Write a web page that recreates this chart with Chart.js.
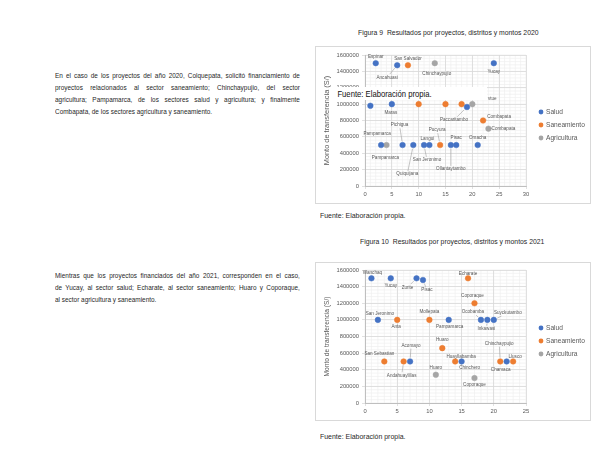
<!DOCTYPE html>
<html>
<head>
<meta charset="utf-8">
<script src="https://cdn.jsdelivr.net/npm/chart.js@4.4.1/dist/chart.umd.min.js"></script>
<style>
body { margin: 0; width: 600px; height: 463px; position: relative; overflow: hidden; background: #fff; color: #1f1f1f;
       font-family: "Liberation Sans", Arial, sans-serif; }
.abs { position: absolute; }
.par { left: 55px; width: 305px; font-size: 8px; line-height: 12px; transform: scaleX(0.803); transform-origin: 0 0; }
.par .ln { white-space: nowrap; text-align: justify; text-align-last: justify; }
.par .ln.last { text-align-last: left; }
.cap { font-size: 8px; white-space: nowrap; transform: scaleX(0.855); transform-origin: 0 0; }
.src { font-size: 8px; white-space: nowrap; transform: scaleX(0.87); transform-origin: 0 0; }
.box { border: 1px solid #d9d9d9; box-sizing: border-box; width: 276px; }
.overlay { left: 335px; top: 87px; width: 152px; height: 13px; background: #fff; }
.overlay span { display: block; padding-left: 3px; font-size: 9.6px; line-height: 13px; color: #111; white-space: nowrap; transform: scaleX(0.8); transform-origin: 0 0; }
</style>
</head>
<body>

<div class="abs cap" style="left:358px; top:28px;">Figura 9&nbsp; Resultados por proyectos, distritos y montos 2020</div>
<div class="abs par" style="top:70px;">
  <div class="ln">En el caso de los proyectos del año 2020, Colquepata, solicitó financiamiento de</div>
  <div class="ln">proyectos relacionados al sector saneamiento; Chinchaypujio, del sector</div>
  <div class="ln">agricultura; Pampamarca, de los sectores salud y agricultura; y finalmente</div>
  <div class="ln last">Combapata, de los sectores agricultura y saneamiento.</div>
</div>
<div class="abs box" style="left:315px; top:46px; height:158px;"></div>
<canvas id="chart2020" class="abs" style="left:315px; top:46px;" width="276" height="158"></canvas>
<div class="abs overlay"><span>Fuente: Elaboración propia.</span></div>
<div class="abs src" style="left:320px; top:211px;">Fuente: Elaboración propia.</div>

<div class="abs cap" style="left:360px; top:237px;">Figura 10&nbsp; Resultados por proyectos, distritos y montos 2021</div>
<div class="abs par" style="top:270px;">
  <div class="ln">Mientras que los proyectos financiados del año 2021, corresponden en el caso,</div>
  <div class="ln">de Yucay, al sector salud; Echarate, al sector saneamiento; Huaro y Coporaque,</div>
  <div class="ln last">al sector agricultura y saneamiento.</div>
</div>
<div class="abs box" style="left:315px; top:262px; height:159px;"></div>
<canvas id="chart2021" class="abs" style="left:315px; top:262px;" width="276" height="159"></canvas>
<div class="abs src" style="left:320px; top:432px;">Fuente: Elaboración propia.</div>

<script>
// ---- 2020 ----
const salud2020X = [2, 6, 24, 1, 5, 19, 3, 7, 9, 11, 12, 16, 17, 21];
const salud2020Y = [1500000, 1475000, 1500000, 980000, 1000000, 965000, 500000, 500000, 500000, 500000, 500000, 500000, 500000, 500000];
const salud2020Names = ['Espinar', 'Ancahuasi', 'Yucay', '', 'Maras', 'Paccaritambo', 'Pampamarca', 'Pichigua', 'Quiquijana', 'San Jeronimo', 'Langui', 'Ollantaytambo', 'Pisac', 'Omacha'];

const san2020X = [8, 10, 15, 18, 22, 14];
const san2020Y = [1475000, 1000000, 1000000, 1000000, 800000, 500000];
const san2020Names = ['San Salvador', '', '', '', 'Combapata', 'Pucyura'];

const agr2020X = [13, 20, 23, 4];
const agr2020Y = [1500000, 1000000, 700000, 500000];
const agr2020Names = ['Chinchaypujio', 'vtue', 'Combapata', 'Pampamarca'];

// ---- 2021 ----
const salud2021X = [1, 4, 8, 9, 2, 13, 18, 19, 20, 7, 15, 22];
const salud2021Y = [1500000, 1500000, 1500000, 1480000, 1000000, 1000000, 1000000, 1000000, 1000000, 500000, 500000, 500000];
const salud2021Names = ['Wanchaq', 'Yucay', 'Zurite', 'Pisac', 'San Jeronimo', 'Pampamarca', 'Ocobamba', 'Inkawasi', 'Suyckutambo', 'Acomayo', 'Chinchero', 'Chamaca'];

const san2021X = [16, 17, 5, 10, 12, 3, 6, 14, 21, 23];
const san2021Y = [1500000, 1200000, 1000000, 1000000, 660000, 500000, 500000, 500000, 500000, 500000];
const san2021Names = ['Echarate', 'Coporaque', 'Anta', 'Mollepata', 'Huaro', 'San Sebastian', 'Andahuaylillas', 'Huayllabamba', 'Chinchaypujio', 'Llusco'];

const agr2021X = [11, 17];
const agr2021Y = [340000, 300000];
const agr2021Names = ['Huaro', 'Coporaque'];

const seriesNames = ['Salud', 'Saneamiento', 'Agricultura'];
const yTicks = { min: 0, max: 1600000, step: 200000 };
const yTitle = 'Monto de transferencia (S/)';

// label placement (px from the point; third item = leader line)
const saludOff2020 = [[0,-6],[-10,12,1],[0,9],[0,0],[-1,9],[-13,13,1],[-4,-11],[-3,-20,1],[-6,29,1],[3,15,1],[-2,-6],[0,24,1],[0,-7],[0,-7]];
const sanOff2020 = [[0,-7],[0,0],[0,0],[0,0],[16,-4,1],[-3,-15,1]];
const agrOff2020 = [[2,11],[20,-5],[15,0,1],[-1,13]];
const saludOff2021 = [[1,-6],[0,7],[-9,9,1],[4,10,1],[2,-6],[1,7],[-8,-8,1],[-1,9,1],[14,-7,1],[1,-16,1],[8,6],[-6,8]];
const sanOff2021 = [[0,-5],[-2,-8],[-1,7],[0,-8],[0,-8],[-5,-8],[-2,14,1],[6,-5],[-1,-18,1],[2,-5]];
const agrOff2021 = [[0,-7],[0,7]];

const colors = ['#4472C4', '#ED7D31', '#A5A5A5'];
const gridColor = '#d9d9d9';
const textGray = '#595959';

const toPoints = (xs, ys) => xs.map((x, i) => ({ x: x, y: ys[i] }));

const minorGrid = {
    id: 'minorGrid',
    beforeDraw(chart, args, opts) {
        const { ctx, chartArea: a, scales: { x, y } } = chart;
        ctx.save();
        ctx.strokeStyle = '#efefef';
        ctx.lineWidth = 0.7;
        ctx.beginPath();
        for (let v = x.min; v <= x.max; v += opts.xStep) {
            const px = x.getPixelForValue(v);
            ctx.moveTo(px, a.top); ctx.lineTo(px, a.bottom);
        }
        for (let v = y.min; v <= y.max; v += opts.yStep) {
            const py = y.getPixelForValue(v);
            ctx.moveTo(a.left, py); ctx.lineTo(a.right, py);
        }
        ctx.stroke();
        ctx.restore();
    }
};

const pointLabels = {
    id: 'pointLabels',
    afterDatasetsDraw(chart) {
        const ctx = chart.ctx;
        ctx.save();
        ctx.font = '4.6px "Liberation Sans", sans-serif';
        ctx.fillStyle = textGray;
        ctx.strokeStyle = '#8c8c8c';
        ctx.lineWidth = 0.5;
        ctx.textAlign = 'center';
        ctx.textBaseline = 'middle';
        chart.data.datasets.forEach((ds, i) => {
            chart.getDatasetMeta(i).data.forEach((pt, j) => {
                const name = ds.names[j];
                if (!name) return;
                const off = ds.offsets[j];
                const lx = pt.x + off[0], ly = pt.y + off[1];
                if (off[2]) {
                    const w = ctx.measureText(name).width / 2 + 1, h = 3.2;
                    const dx = pt.x - lx, dy = pt.y - ly;
                    const t = Math.min(dx ? w / Math.abs(dx) : Infinity, dy ? h / Math.abs(dy) : Infinity);
                    const len = Math.hypot(dx, dy);
                    ctx.beginPath();
                    ctx.moveTo(lx + dx * t, ly + dy * t);
                    ctx.lineTo(pt.x - dx / len * 3.8, pt.y - dy / len * 3.8);
                    ctx.stroke();
                }
                ctx.fillText(name, lx, ly);
            });
        });
        ctx.restore();
    }
};

const sideLegend = {
    id: 'sideLegend',
    afterDraw(chart, args, opts) {
        const ctx = chart.ctx;
        const x0 = chart.chartArea.right + 15;
        ctx.save();
        ctx.font = '6.6px "Liberation Sans", sans-serif';
        ctx.textBaseline = 'middle';
        chart.data.datasets.forEach((ds, i) => {
            const y = opts.top + i * 13;
            ctx.fillStyle = ds.backgroundColor;
            ctx.beginPath(); ctx.arc(x0, y, 2.4, 0, Math.PI * 2); ctx.fill();
            ctx.fillStyle = textGray;
            ctx.fillText(ds.label, x0 + 5, y);
        });
        ctx.restore();
    }
};

function makeDataset(i, xs, ys, names, offsets) {
    return {
        label: seriesNames[i],
        data: toPoints(xs, ys),
        names: names,
        offsets: offsets,
        backgroundColor: colors[i],
        borderColor: colors[i],
        pointRadius: 2.8,
        pointBorderWidth: 0.5
    };
}

function drawChart(id, datasets, xMax, titleSize, top) {
    new Chart(document.getElementById(id), {
        type: 'scatter',
        data: { datasets: datasets },
        plugins: [minorGrid, pointLabels, sideLegend],
        options: {
            responsive: false,
            animation: false,
            layout: { padding: { left: 4, top: top, right: 65, bottom: 0 } },
            plugins: {
                legend: { display: false },
                tooltip: { enabled: false },
                minorGrid: { xStep: 1, yStep: 40000 },
                sideLegend: { top: 66 }
            },
            scales: {
                x: {
                    type: 'linear', min: 0, max: xMax,
                    ticks: { stepSize: 5, color: textGray, padding: 2, font: { size: 5.8, family: 'Liberation Sans' } },
                    grid: { color: gridColor, lineWidth: 0.8, tickLength: 3 },
                    border: { color: '#bfbfbf' },
                    afterFit: s => { s.height = 18; }
                },
                y: {
                    min: yTicks.min, max: yTicks.max,
                    ticks: { stepSize: yTicks.step, color: textGray, padding: 3, callback: v => String(v), font: { size: 5.8, family: 'Liberation Sans' } },
                    grid: { color: gridColor, lineWidth: 0.8, tickLength: 3 },
                    border: { color: '#bfbfbf' },
                    title: { display: true, text: yTitle, color: textGray, font: { size: titleSize, family: 'Liberation Sans' } },
                    afterFit: s => { s.width = 46; }
                }
            }
        }
    });
}

drawChart('chart2020', [
    makeDataset(0, salud2020X, salud2020Y, salud2020Names, saludOff2020),
    makeDataset(1, san2020X, san2020Y, san2020Names, sanOff2020),
    makeDataset(2, agr2020X, agr2020Y, agr2020Names, agrOff2020)
], 30, 7.4, 9);

drawChart('chart2021', [
    makeDataset(0, salud2021X, salud2021Y, salud2021Names, saludOff2021),
    makeDataset(1, san2021X, san2021Y, san2021Names, sanOff2021),
    makeDataset(2, agr2021X, agr2021Y, agr2021Names, agrOff2021)
], 25, 6.6, 8);
</script>
</body>
</html>
